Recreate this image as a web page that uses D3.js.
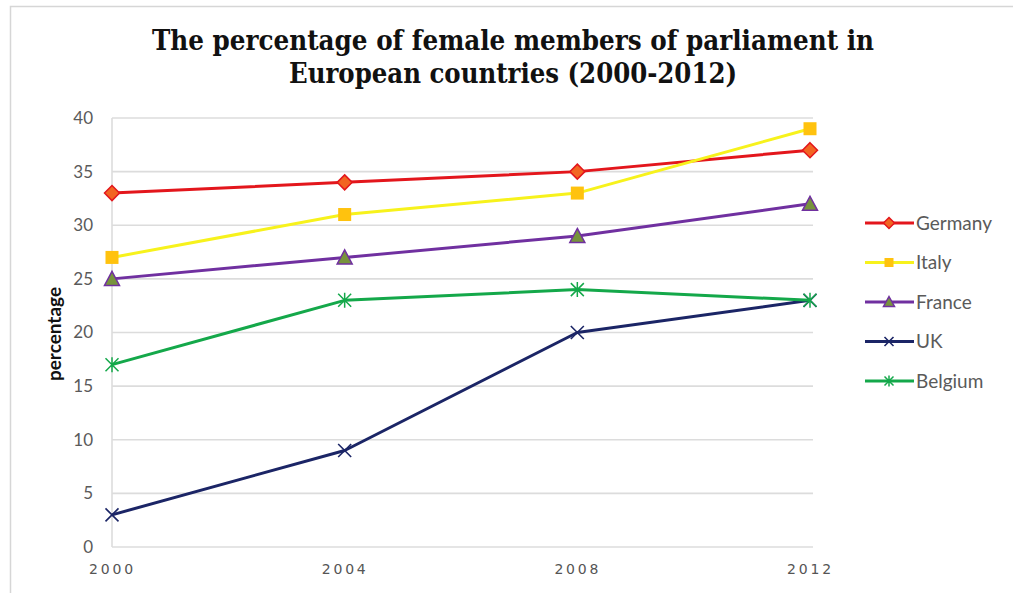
<!DOCTYPE html>
<html>
<head>
<meta charset="utf-8">
<script src="https://cdn.jsdelivr.net/npm/d3@7"></script>
<style>
  html, body { margin: 0; padding: 0; background: #fff; }
  svg { display: block; }
</style>
</head>
<body>
<svg id="chart" width="1013" height="593"></svg>
<script>
// Survey years on the horizontal axis
const years = [2000, 2004, 2008, 2012];
// Share of female members of parliament (%)
const germany = [33, 34, 35, 37];
const italy   = [27, 31, 33, 39];
const france  = [25, 27, 29, 32];
const uk      = [3, 9, 20, 23];
const belgium = [17, 23, 24, 23];
const yTicks  = [0, 5, 10, 15, 20, 25, 30, 35, 40];

const series = [
  { name: "Germany", values: germany, line: "#e3161c", fill: "#f26522", stroke: "#e3161c", shape: "diamond" },
  { name: "Italy",   values: italy,   line: "#f7f21c", fill: "#ffc20e", stroke: "#ffc20e", shape: "square" },
  { name: "France",  values: france,  line: "#7030a0", fill: "#77933c", stroke: "#7030a0", shape: "triangle" },
  { name: "UK",      values: uk,      line: "#1b2566", fill: "none",    stroke: "#1b2566", shape: "cross" },
  { name: "Belgium", values: belgium, line: "#14a84a", fill: "none",    stroke: "#14a84a", shape: "asterisk" }
];

const svg = d3.select("#chart");
const W = 1013, H = 593;
const plot = { left: 112, right: 810, top: 118, bottom: 547 };

// outer frame
svg.append("rect")
  .attr("x", 10.5).attr("y", 6.5)
  .attr("width", W + 20).attr("height", H + 20)
  .attr("fill", "none").attr("stroke", "#d6d6d6").attr("stroke-width", 1.5);

const x = d3.scalePoint().domain(years).range([plot.left, plot.right]);
const y = d3.scaleLinear().domain([0, 40]).range([plot.bottom, plot.top]);

// title
const title = svg.append("text")
  .attr("text-anchor", "middle")
  .attr("font-family", "'DejaVu Serif', 'Liberation Serif', serif")
  .attr("font-weight", "bold")
  .attr("font-size", 27)
  .attr("fill", "#111");
title.append("tspan").attr("x", 513).attr("y", 50)
  .attr("textLength", 722).attr("lengthAdjust", "spacingAndGlyphs")
  .text("The percentage of female members of parliament in");
title.append("tspan").attr("x", 513).attr("y", 83)
  .attr("textLength", 448).attr("lengthAdjust", "spacingAndGlyphs")
  .text("European countries (2000-2012)");

// horizontal gridlines
svg.append("g")
  .selectAll("line")
  .data(yTicks)
  .join("line")
  .attr("x1", plot.left).attr("x2", plot.right + 3)
  .attr("y1", d => y(d)).attr("y2", d => y(d))
  .attr("stroke", "#dcdcdc").attr("stroke-width", 1.6);

// vertical axis line
svg.append("line")
  .attr("x1", plot.left).attr("x2", plot.left)
  .attr("y1", plot.top).attr("y2", plot.bottom)
  .attr("stroke", "#dcdcdc").attr("stroke-width", 1.6);

// y axis labels
const yAxis = d3.axisLeft(y).tickValues(yTicks).tickSize(0).tickPadding(19);
const gy = svg.append("g").attr("transform", `translate(${plot.left},0)`).call(yAxis);
gy.select(".domain").remove();
gy.selectAll("text")
  .attr("font-family", "Lato, 'Open Sans', sans-serif")
  .attr("font-size", 17)
  .attr("fill", "#5a5a5a");

// x axis labels
const xAxis = d3.axisBottom(x).tickSize(0).tickPadding(17).tickFormat(d3.format("d"));
const gx = svg.append("g").attr("transform", `translate(0,${plot.bottom})`).call(xAxis);
gx.select(".domain").remove();
gx.selectAll("text")
  .attr("font-family", "'DejaVu Sans', sans-serif")
  .attr("font-size", 14)
  .attr("letter-spacing", "2.8px")
  .attr("fill", "#555");

// y axis title
svg.append("text")
  .attr("transform", "translate(61,334) rotate(-90)")
  .attr("text-anchor", "middle")
  .attr("font-family", "Lato, 'Open Sans', sans-serif")
  .attr("font-weight", "bold")
  .attr("font-size", 19)
  .attr("fill", "#111")
  .text("percentage");

// marker drawing
function drawMarker(g, s, size) {
  const r = size / 2;
  if (s.shape === "diamond") {
    g.append("path").attr("d", `M0,${-r - 1}L${r + 1},0L0,${r + 1}L${-r - 1},0Z`)
      .attr("fill", s.fill).attr("stroke", s.stroke).attr("stroke-width", 1.5);
  } else if (s.shape === "square") {
    g.append("rect").attr("x", -r).attr("y", -r).attr("width", size).attr("height", size)
      .attr("fill", s.fill);
  } else if (s.shape === "triangle") {
    g.append("path").attr("d", `M0,${-r - 1}L${r + 1},${r}L${-r - 1},${r}Z`)
      .attr("fill", s.fill).attr("stroke", s.stroke).attr("stroke-width", 1.5);
  } else if (s.shape === "cross") {
    g.append("path").attr("d", `M${-r},${-r}L${r},${r}M${-r},${r}L${r},${-r}`)
      .attr("stroke", s.stroke).attr("stroke-width", 1.6).attr("fill", "none");
  } else if (s.shape === "asterisk") {
    g.append("path").attr("d", `M${-r},${-r}L${r},${r}M${-r},${r}L${r},${-r}M0,${-r - 1}L0,${r + 1}`)
      .attr("stroke", s.stroke).attr("stroke-width", 1.5).attr("fill", "none");
  }
}

const line = d3.line().x((d, i) => x(years[i])).y(d => y(d));

// series lines and markers
series.forEach(s => {
  svg.append("path")
    .datum(s.values)
    .attr("d", line)
    .attr("fill", "none")
    .attr("stroke", s.line)
    .attr("stroke-width", 3)
    .attr("stroke-linejoin", "round");
  s.values.forEach((v, i) => {
    const g = svg.append("g").attr("transform", `translate(${x(years[i])},${y(v)})`);
    drawMarker(g, s, 13);
  });
});

// legend
const legend = svg.append("g");
series.forEach((s, i) => {
  const ly = 223 + i * 39.5;
  legend.append("line")
    .attr("x1", 865).attr("x2", 914).attr("y1", ly).attr("y2", ly)
    .attr("stroke", s.line).attr("stroke-width", 3);
  const g = legend.append("g").attr("transform", `translate(889,${ly})`);
  drawMarker(g, s, 9);
  legend.append("text")
    .attr("x", 916).attr("y", ly).attr("dy", "0.35em")
    .attr("font-family", "Lato, 'Open Sans', sans-serif")
    .attr("font-size", 19)
    .attr("fill", "#5a5a5a")
    .text(s.name);
});
</script>
</body>
</html>
